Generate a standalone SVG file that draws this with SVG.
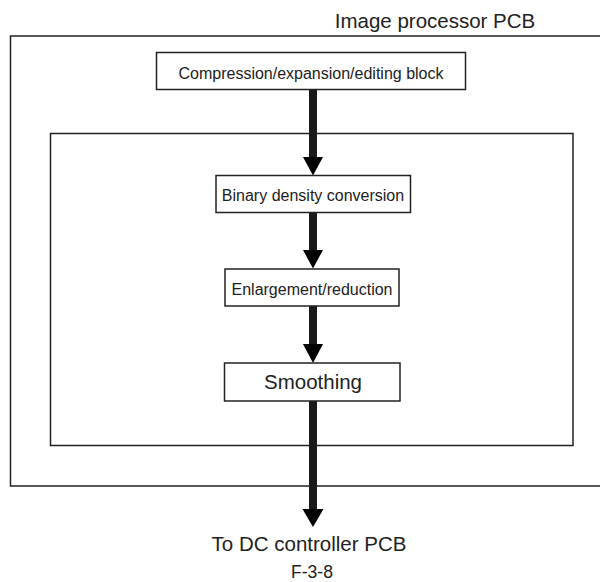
<svg xmlns="http://www.w3.org/2000/svg" width="600" height="582" viewBox="0 0 600 582">
<defs>
<style>
.frame{fill:none;stroke:#222;stroke-width:1.5}
.box{fill:#fff;stroke:#222;stroke-width:1.5}
.t{font-family:"Liberation Sans",Arial,Helvetica,sans-serif;fill:#222;text-anchor:middle}
.shaft{stroke:#1a1a1a;stroke-width:8;fill:none}
.head{fill:#000}
</style>
</defs>
<rect width="600" height="582" fill="#fff"/>
<g id="pcb">
<rect class="frame" x="10.5" y="36" width="591" height="450"/>
<text class="t" x="435" y="28" font-size="20.5">Image processor PCB</text>
</g>
<g id="inner">
<rect class="frame" x="50.5" y="133.5" width="522.5" height="312"/>
</g>
<g id="connectors">
<line class="shaft" x1="313" y1="90" x2="313" y2="159"/>
<polygon class="head" points="303,157 323,157 313,175.5"/>
<line class="shaft" x1="313" y1="213" x2="313" y2="252"/>
<polygon class="head" points="303,250 323,250 313,268.5"/>
<line class="shaft" x1="313" y1="306" x2="313" y2="346"/>
<polygon class="head" points="303,344 323,344 313,363"/>
<line class="shaft" x1="313" y1="401" x2="313" y2="511"/>
<polygon class="head" points="302.5,509 323.5,509 313,527"/>
</g>
<g id="compression">
<rect class="box" x="156.5" y="52.5" width="309" height="37"/>
<text class="t" x="311" y="79" font-size="16">Compression/expansion/editing block</text>
</g>
<g id="binary">
<rect class="box" x="216" y="175.5" width="194.5" height="37"/>
<text class="t" x="313" y="201" font-size="16">Binary density conversion</text>
</g>
<g id="enlargement">
<rect class="box" x="225" y="269" width="174" height="37"/>
<text class="t" x="312" y="295" font-size="16">Enlargement/reduction</text>
</g>
<g id="smoothing">
<rect class="box" x="224.5" y="363" width="175.5" height="38"/>
<text class="t" x="313" y="389" font-size="20.5">Smoothing</text>
</g>
<g id="labels">
<text class="t" x="309" y="551" font-size="20.5">To DC controller PCB</text>
<text class="t" x="312" y="578" font-size="17.5">F-3-8</text>
</g>
</svg>
